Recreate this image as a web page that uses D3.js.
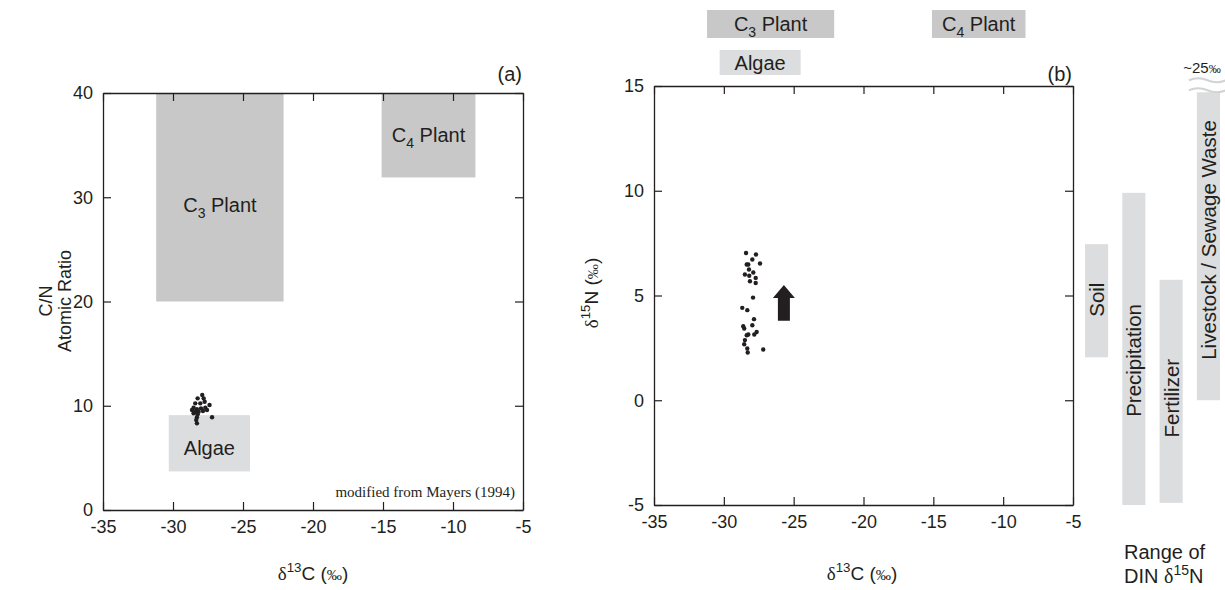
<!DOCTYPE html>
<html>
<head>
<meta charset="utf-8">
<script src="https://cdn.jsdelivr.net/npm/d3@7"></script>
<style>
  body { margin: 0; background: #fff; }
  svg { font-family: "Liberation Sans", Arial, sans-serif; }
</style>
</head>
<body>
<div id="chart"></div>
<script>
/* DATA */
const d13cTicks = [-35, -30, -25, -20, -15, -10, -5];
const cnTicks = [0, 10, 20, 30, 40];
const d15nTicks = [-5, 0, 5, 10, 15];

// end-member boxes
const sourceNames = ["C3", "C4", "Algae"];
const sourceD13C = [[-31.2, -22.1], [-15.1, -8.4], [-30.3, -24.5]];
const sourceCN = [[20, 40], [31.9, 40], [3.7, 9.1]];

// samples, panel (a)
const sampleD13C_a = [-28.24, -27.91, -27.81, -27.74, -28.41, -28.05, -27.39, -28.53, -28.64, -28.29, -28.0,
  -27.69, -28.41, -28.17, -27.86, -28.53, -28.24, -28.29, -28.34, -27.21, -28.29, -27.57];
const sampleCN = [10.71, 11.03, 10.71, 10.38, 10.23, 10.23, 10.07, 9.81, 9.59, 9.68, 9.75,
  9.81, 9.42, 9.42, 9.49, 9.27, 9.18, 8.89, 8.63, 8.89, 8.31, 9.59];

// samples, panel (b)
const sampleD13C_b = [-28.41, -27.70, -27.96, -28.36, -28.25, -27.41, -28.20, -28.49, -28.18, -27.89, -27.72,
  -28.13, -27.72, -27.91, -28.68, -28.32, -27.84, -27.96, -28.61, -28.54, -27.65, -28.25, -28.36, -27.82,
  -28.49, -28.54, -28.32, -28.29, -27.18];
const sampleD15N = [7.03, 6.96, 6.72, 6.48, 6.48, 6.53, 6.24, 6.0, 5.94, 6.10, 5.84,
  5.68, 5.60, 4.90, 4.41, 4.30, 3.87, 3.58, 3.53, 3.42, 3.26, 3.14, 3.10, 3.14,
  2.87, 2.67, 2.47, 2.28, 2.42];

// shift arrow (d13C, d15N from -> to)
const shiftD13C = -25.7;
const shiftD15N = [3.8, 5.5];

// DIN sources
const dinNames = ["Soil", "Precipitation", "Fertilizer", "Livestock / Sewage Waste"];
const dinLow = [2.05, -5, -4.9, 0];
const dinHigh = [7.45, 9.9, 5.75, 25];
const dinBreak = 14.7;   // livestock bar is cut here (~25 permil)

/* LAYOUT */
const width = 1225, height = 590;
const A = { left: 103, right: 523, top: 93, bottom: 510 };
const B = { left: 654, right: 1073, top: 86, bottom: 505 };
const ink = "#231f20", darkBox = "#c8c8c9", lightBox = "#dcddde";
const boxFill = [darkBox, darkBox, lightBox];
const labelDyA = [8, 0, 5];
const topRows = [[10, 38], [10, 38], [50, 75]];   // pixel rows of the (b) header boxes
const dinLabelAt = [4.8, 1.9, 0.1, 7.65];
const tickFont = 18;

const svg = d3.select("#chart").append("svg")
  .attr("width", width)
  .attr("height", height);

// text with sub / superscripts and serif symbols
function rich(sel, parts, size) {
  let shift = 0;
  parts.forEach(p => {
    const t = sel.append("tspan").text(p.t);
    let target = 0;
    if (p.sub) { t.attr("font-size", size * 0.7); target = size * 0.3; }
    else if (p.sup) { t.attr("font-size", size * 0.7); target = -size * 0.4; }
    if (p.serif) t.attr("font-family", "Liberation Serif, Times New Roman, serif");
    if (p.small) t.attr("font-size", size * 0.8);
    t.attr("dy", target - shift);
    shift = target;
  });
}

const d13cLabel = [{ t: "δ", serif: true }, { t: "13", sup: true }, { t: "C (" }, { t: "‰", serif: true, small: true }, { t: ")" }];

function frame(x, y, box, yTicks) {
  const style = g => {
    g.attr("font-size", tickFont).attr("font-family", null).attr("color", ink);
    g.selectAll("path.domain").attr("stroke-width", 1.3);
    g.selectAll(".tick line").attr("stroke-width", 1.2);
  };
  svg.append("g")
    .attr("transform", `translate(0,${box.bottom})`)
    .call(d3.axisBottom(x).tickValues(d13cTicks).tickSize(-8).tickSizeOuter(0).tickPadding(10).tickFormat(d => String(d)))
    .call(style);
  svg.append("g")
    .attr("transform", `translate(0,${box.top})`)
    .call(d3.axisTop(x).tickValues(d13cTicks).tickSize(-8).tickSizeOuter(0).tickFormat(""))
    .call(style);
  svg.append("g")
    .attr("transform", `translate(${box.left},0)`)
    .call(d3.axisLeft(y).tickValues(yTicks).tickSize(-8).tickSizeOuter(0).tickPadding(10).tickFormat(d => String(d)))
    .call(style);
  svg.append("g")
    .attr("transform", `translate(${box.right},0)`)
    .call(d3.axisRight(y).tickValues(yTicks).tickSize(-8).tickSizeOuter(0).tickFormat(""))
    .call(style);
}

/* PANEL (a) */
const xA = d3.scaleLinear().domain([-35, -5]).range([A.left, A.right]);
const yA = d3.scaleLinear().domain([0, 40]).range([A.bottom, A.top]);

sourceNames.forEach((name, i) => {
  const x0 = xA(sourceD13C[i][0]), x1 = xA(sourceD13C[i][1]);
  const y0 = yA(sourceCN[i][1]), y1 = yA(sourceCN[i][0]);
  svg.append("rect")
    .attr("x", x0).attr("y", y0)
    .attr("width", x1 - x0).attr("height", y1 - y0)
    .attr("fill", boxFill[i]);
  const t = svg.append("text")
    .attr("x", (x0 + x1) / 2)
    .attr("y", (y0 + y1) / 2 + labelDyA[i] + 7)
    .attr("text-anchor", "middle")
    .attr("font-size", 20)
    .attr("fill", ink);
  if (name === "Algae") t.text("Algae");
  else rich(t, [{ t: "C" }, { t: name[1], sub: true }, { t: " Plant" }], 20);
});

frame(xA, yA, A, cnTicks);

svg.append("g").selectAll("circle")
  .data(d3.zip(sampleD13C_a, sampleCN))
  .join("circle")
  .attr("cx", d => xA(d[0]))
  .attr("cy", d => yA(d[1]))
  .attr("r", 2.2)
  .attr("fill", ink);

svg.append("text")
  .attr("x", A.right - 1).attr("y", 81)
  .attr("text-anchor", "end").attr("font-size", 20).attr("fill", ink)
  .text("(a)");

svg.append("text")
  .attr("x", A.right - 8).attr("y", 497)
  .attr("text-anchor", "end").attr("font-size", 15).attr("fill", ink)
  .attr("font-family", "Liberation Serif, Times New Roman, serif")
  .text("modified from Mayers (1994)");

svg.append("text")
  .attr("transform", "translate(52,301) rotate(-90)")
  .attr("text-anchor", "middle").attr("font-size", 18).attr("fill", ink)
  .text("C/N");
svg.append("text")
  .attr("transform", "translate(71,301) rotate(-90)")
  .attr("text-anchor", "middle").attr("font-size", 18).attr("fill", ink)
  .text("Atomic Ratio");

rich(svg.append("text")
  .attr("x", 313).attr("y", 580)
  .attr("text-anchor", "middle").attr("font-size", 19).attr("fill", ink), d13cLabel, 19);

/* PANEL (b) */
const xB = d3.scaleLinear().domain([-35, -5]).range([B.left, B.right]);
const yB = d3.scaleLinear().domain([-5, 15]).range([B.bottom, B.top]);

// header boxes using the same d13C ranges
sourceNames.forEach((name, i) => {
  const x0 = xB(sourceD13C[i][0]), x1 = xB(sourceD13C[i][1]);
  const [y0, y1] = topRows[i];
  svg.append("rect")
    .attr("x", x0).attr("y", y0)
    .attr("width", x1 - x0).attr("height", y1 - y0)
    .attr("fill", boxFill[i]);
  const t = svg.append("text")
    .attr("x", (x0 + x1) / 2)
    .attr("y", (y0 + y1) / 2 + 7)
    .attr("text-anchor", "middle")
    .attr("font-size", 20)
    .attr("fill", ink);
  if (name === "Algae") t.text("Algae");
  else rich(t, [{ t: "C" }, { t: name[1], sub: true }, { t: " Plant" }], 20);
});

frame(xB, yB, B, d15nTicks);

svg.append("g").selectAll("circle")
  .data(d3.zip(sampleD13C_b, sampleD15N))
  .join("circle")
  .attr("cx", d => xB(d[0]))
  .attr("cy", d => yB(d[1]))
  .attr("r", 2.2)
  .attr("fill", ink);

// arrow
{
  const cx = xB(shiftD13C), yTail = yB(shiftD15N[0]), yTip = yB(shiftD15N[1]);
  const headBase = yTip + 13, hw = 11, sw = 6;
  svg.append("path")
    .attr("d", `M${cx},${yTip} L${cx + hw},${headBase} L${cx + sw},${headBase} L${cx + sw},${yTail}
      L${cx - sw},${yTail} L${cx - sw},${headBase} L${cx - hw},${headBase} Z`)
    .attr("fill", ink);
}

svg.append("text")
  .attr("x", B.right - 1).attr("y", 81)
  .attr("text-anchor", "end").attr("font-size", 20).attr("fill", ink)
  .text("(b)");

rich(svg.append("text")
  .attr("transform", "translate(598,293) rotate(-90)")
  .attr("text-anchor", "middle").attr("font-size", 19).attr("fill", ink),
  [{ t: "δ", serif: true }, { t: "15", sup: true }, { t: "N (" }, { t: "‰", serif: true, small: true }, { t: ")" }], 19);

rich(svg.append("text")
  .attr("x", 862).attr("y", 580)
  .attr("text-anchor", "middle").attr("font-size", 19).attr("fill", ink), d13cLabel, 19);

/* DIN source ranges */
const dinX = d3.scaleBand().domain(dinNames).range([1085, 1220]).paddingInner(0.38);

dinNames.forEach((name, i) => {
  const top = yB(Math.min(dinHigh[i], dinBreak));
  svg.append("rect")
    .attr("x", dinX(name)).attr("y", top)
    .attr("width", dinX.bandwidth())
    .attr("height", yB(dinLow[i]) - top)
    .attr("fill", lightBox);
  svg.append("text")
    .attr("transform", `translate(${dinX(name) + dinX.bandwidth() / 2},${yB(dinLabelAt[i])}) rotate(-90)`)
    .attr("text-anchor", "middle")
    .attr("dominant-baseline", "central")
    .attr("font-size", 20.5).attr("fill", ink)
    .text(name);
  if (dinHigh[i] > dinBreak) {
    const x0 = dinX(name) - 8, w = dinX.bandwidth() + 14;
    [top - 2, top - 12].forEach(yy => {
      svg.append("path")
        .attr("d", `M${x0},${yy} Q${x0 + w / 4},${yy - 4} ${x0 + w / 2},${yy} T${x0 + w},${yy}`)
        .attr("fill", "none").attr("stroke", "#d2d3d4").attr("stroke-width", 2);
    });
    rich(svg.append("text")
      .attr("x", 1202).attr("y", top - 19)
      .attr("text-anchor", "middle").attr("font-size", 15).attr("fill", ink),
      [{ t: "~25" }, { t: "‰", serif: true, small: true }], 15);
  }
});

svg.append("text")
  .attr("x", 1124).attr("y", 559)
  .attr("font-size", 20).attr("fill", ink)
  .text("Range of");
rich(svg.append("text")
  .attr("x", 1124).attr("y", 583)
  .attr("font-size", 20).attr("fill", ink),
  [{ t: "DIN " }, { t: "δ", serif: true }, { t: "15", sup: true }, { t: "N" }], 20);
</script>
</body>
</html>
